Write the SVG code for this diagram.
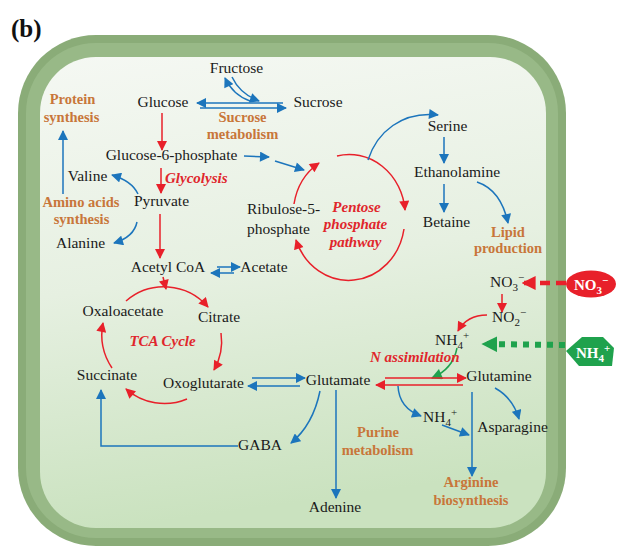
<svg xmlns="http://www.w3.org/2000/svg" width="617" height="548" viewBox="0 0 617 548">
<defs>
<linearGradient id="cyto" x1="0" y1="0" x2="0.15" y2="1">
<stop offset="0" stop-color="#f5f8f3"/>
<stop offset="0.5" stop-color="#e6f0e1"/>
<stop offset="1" stop-color="#cae2bf"/>
</linearGradient>
<marker id="ab" viewBox="0 0 10 10" refX="9" refY="5" markerWidth="11" markerHeight="10" markerUnits="userSpaceOnUse" orient="auto"><path d="M0,0L10,5L0,10z" fill="#1c75bc"/></marker>
<marker id="ar" viewBox="0 0 10 10" refX="9" refY="5" markerWidth="11" markerHeight="10" markerUnits="userSpaceOnUse" orient="auto"><path d="M0,0L10,5L0,10z" fill="#e8202a"/></marker>
<marker id="ag" viewBox="0 0 10 10" refX="9" refY="5" markerWidth="12" markerHeight="11" markerUnits="userSpaceOnUse" orient="auto"><path d="M0,0L10,5L0,10z" fill="#1fa24d"/></marker>
<marker id="arBig" viewBox="0 0 10 10" refX="9" refY="5" markerWidth="14" markerHeight="15" markerUnits="userSpaceOnUse" orient="auto"><path d="M0,0L10,5L0,10z" fill="#e8202a"/></marker>
<marker id="agBig" viewBox="0 0 10 10" refX="9" refY="5" markerWidth="16" markerHeight="20" markerUnits="userSpaceOnUse" orient="auto"><path d="M0,0L10,5L0,10z" fill="#1fa24d"/></marker>
<style>
.t{font-family:"Liberation Serif","Times New Roman",serif;font-size:15.5px;fill:#1a1a1a}
.m{text-anchor:middle}
.o{font-family:"Liberation Serif","Times New Roman",serif;font-size:14.5px;font-weight:bold;fill:#c8763a;text-anchor:middle}
.r{font-family:"Liberation Serif","Times New Roman",serif;font-size:15px;font-weight:bold;font-style:italic;fill:#e0262c}
.w{font-family:"Liberation Serif","Times New Roman",serif;font-size:15px;font-weight:bold;fill:#ffffff}
.sub{font-size:11px}
.b{fill:none;stroke:#1c75bc;stroke-width:1.5;marker-end:url(#ab)}
.bl{fill:none;stroke:#1c75bc;stroke-width:1.5}
.rd{fill:none;stroke:#e8202a;stroke-width:1.5;marker-end:url(#ar)}
.gr{fill:none;stroke:#1fa24d;stroke-width:1.5;marker-end:url(#ag)}
</style>
</defs>

<g id="label">
<text x="11" y="37" font-family="Liberation Serif, Times New Roman, serif" font-size="25" font-weight="bold" fill="#111">(b)</text>
</g>

<g id="cell">
<rect x="18" y="35" width="548" height="511" rx="78" ry="78" fill="#8aac78"/>
<rect x="26" y="43" width="532" height="495" rx="70" ry="70" fill="#98b987"/>
<rect x="40" y="57" width="506" height="471" rx="56" ry="56" fill="url(#cyto)"/>
</g>

<g id="connectors">
<!-- sucrose metabolism -->
<path class="b" d="M283,103 L197,103"/>
<path class="b" d="M200,108 L286,108"/>
<path class="b" d="M250,101 Q233,95 225,78"/>
<path class="b" d="M232,77 Q240,94 259,101"/>
<!-- glycolysis -->
<path class="rd" d="M162,113 L162,150"/>
<path class="rd" d="M161,168 L161,193"/>
<path class="rd" d="M160,214 L160,258"/>
<path class="rd" d="M163,277 L166,289"/>
<!-- G6P to pentose -->
<path class="b" d="M244,156 L269,157"/>
<path class="b" d="M275,161 L304,170"/>
<!-- amino acids -->
<path class="b" d="M138,194 Q132,181 112,175"/>
<path class="b" d="M137,222 Q134,237 114,243"/>
<path class="b" d="M63,194 L63,131"/>
<!-- acetyl CoA / acetate -->
<path class="b" d="M217,267 L240,267"/>
<path class="b" d="M234,273 L211,273"/>
<!-- TCA cycle -->
<path class="rd" d="M126,301 A58,58 0 0 1 208,307"/>
<path class="rd" d="M221,333 A58,58 0 0 1 214,370"/>
<path class="rd" d="M187,399 A58,58 0 0 1 126,389"/>
<path class="rd" d="M112,368 A60,60 0 0 1 103,323"/>
<!-- pentose phosphate -->
<path class="rd" d="M294,204 A56,61 0 0 1 319,163"/>
<path class="rd" d="M337,156 A56,61 0 0 1 405,210"/>
<path class="rd" d="M404,229 A56,61 0 0 1 296,240"/>
<path class="b" d="M368,160 C377,132 402,111 438,115"/>
<!-- serine branch -->
<path class="b" d="M444,137 L444,163"/>
<path class="b" d="M444,184 L444,212"/>
<path class="b" d="M477,182 Q501,190 508,223"/>
<!-- nitrogen -->
<path fill="none" stroke="#e8202a" stroke-width="4.5" stroke-dasharray="10 6" marker-end="url(#arBig)" d="M566,283 L523,283"/>
<path fill="none" stroke="#1fa24d" stroke-width="6" stroke-dasharray="6 6" marker-end="url(#agBig)" d="M565,345 L483,344"/>
<path class="rd" d="M502,294 L502,312"/>
<path class="rd" d="M487,315 Q467,315 458,331"/>
<path class="gr" d="M457,348 Q453,369 432,378"/>
<path class="rd" d="M385,378 L466,378"/>
<path class="rd" d="M463,385 L376,385"/>
<!-- glutamate branches -->
<path class="b" d="M252,378 L305,378"/>
<path class="b" d="M300,386 L248,386"/>
<path class="b" d="M320,391 Q313,425 291,443"/>
<path class="b" d="M238,446 L101,446 L101,390"/>
<path class="b" d="M336,390 L336,498"/>
<path class="b" d="M398,386 Q399,408 421,416"/>
<path class="b" d="M442,425 L469,435"/>
<path class="b" d="M472,392 L472,476"/>
<path class="b" d="M495,388 Q513,398 519,419"/>
</g>

<g id="n-fructose"><text class="t m" x="236.5" y="73">Fructose</text></g>
<g id="n-glucose"><text class="t m" x="163" y="107">Glucose</text></g>
<g id="n-sucrose"><text class="t m" x="318" y="107">Sucrose</text></g>
<g id="n-g6p"><text class="t m" x="171.5" y="160">Glucose-6-phosphate</text></g>
<g id="n-valine"><text class="t m" x="87.5" y="181">Valine</text></g>
<g id="n-pyruvate"><text class="t m" x="161.5" y="206">Pyruvate</text></g>
<g id="n-alanine"><text class="t m" x="80.5" y="248">Alanine</text></g>
<g id="n-acetylcoa"><text class="t m" x="168" y="272">Acetyl CoA</text></g>
<g id="n-acetate"><text class="t m" x="264" y="272">Acetate</text></g>
<g id="n-oxaloacetate"><text class="t m" x="123" y="316">Oxaloacetate</text></g>
<g id="n-citrate"><text class="t m" x="219" y="322">Citrate</text></g>
<g id="n-succinate"><text class="t m" x="107" y="380">Succinate</text></g>
<g id="n-oxoglutarate"><text class="t m" x="203.5" y="388">Oxoglutarate</text></g>
<g id="n-ribulose"><text class="t" x="247" y="214">Ribulose-5-</text><text class="t" x="247" y="234">phosphate</text></g>
<g id="n-serine"><text class="t m" x="447.5" y="131">Serine</text></g>
<g id="n-ethanolamine"><text class="t m" x="457" y="177">Ethanolamine</text></g>
<g id="n-betaine"><text class="t m" x="446.5" y="227">Betaine</text></g>
<g id="n-glutamate"><text class="t m" x="338" y="385">Glutamate</text></g>
<g id="n-gaba"><text class="t m" x="260" y="450">GABA</text></g>
<g id="n-glutamine"><text class="t m" x="499" y="381">Glutamine</text></g>
<g id="n-asparagine"><text class="t m" x="512.5" y="432">Asparagine</text></g>
<g id="n-adenine"><text class="t m" x="335" y="512">Adenine</text></g>
<g id="n-no3"><text class="t" x="490" y="287">NO<tspan class="sub" dy="4">3</tspan><tspan class="sub" dy="-10">−</tspan></text></g>
<g id="n-no2"><text class="t" x="492" y="322">NO<tspan class="sub" dy="4">2</tspan><tspan class="sub" dy="-10">−</tspan></text></g>
<g id="n-nh4"><text class="t" x="435" y="345">NH<tspan class="sub" dy="4">4</tspan><tspan class="sub" dy="-10">+</tspan></text></g>
<g id="n-nh4b"><text class="t" x="423" y="422">NH<tspan class="sub" dy="4">4</tspan><tspan class="sub" dy="-10">+</tspan></text></g>

<g id="p-protein"><text class="o" x="72.5" y="104">Protein</text><text class="o" x="71.5" y="122">synthesis</text></g>
<g id="p-sucrose"><text class="o" x="242.5" y="122">Sucrose</text><text class="o" x="242.5" y="139">metabolism</text></g>
<g id="p-amino"><text class="o" x="81" y="207">Amino acids</text><text class="o" x="81.5" y="224">synthesis</text></g>
<g id="p-lipid"><text class="o" x="508" y="237">Lipid</text><text class="o" x="508" y="253">production</text></g>
<g id="p-purine"><text class="o" x="378" y="437">Purine</text><text class="o" x="377.5" y="455">metabolism</text></g>
<g id="p-arginine"><text class="o" x="471" y="487">Arginine</text><text class="o" x="471" y="505">biosynthesis</text></g>

<g id="p-glycolysis"><text class="r" x="165" y="183">Glycolysis</text></g>
<g id="p-pentose"><text class="r m" x="356.5" y="212">Pentose</text><text class="r m" x="355.5" y="229">phosphate</text><text class="r m" x="355.5" y="247">pathway</text></g>
<g id="p-tca"><text class="r m" x="162.5" y="346">TCA Cycle</text></g>
<g id="p-nassim"><text class="r" x="370" y="362">N assimilation</text></g>

<g id="ext-no3">
<ellipse cx="591" cy="284" rx="25" ry="13.5" fill="#e8202a"/>
<text class="w" x="574" y="290">NO<tspan class="sub" dy="4">3</tspan><tspan class="sub" dy="-10">−</tspan></text>
</g>
<g id="ext-nh4">
<path d="M566,351 L582,337 L603,337 L614,348 L612,366 L579,366 Z" fill="#1fa24d"/>
<text class="w" x="576" y="358">NH<tspan class="sub" dy="4">4</tspan><tspan class="sub" dy="-10">+</tspan></text>
</g>
</svg>
